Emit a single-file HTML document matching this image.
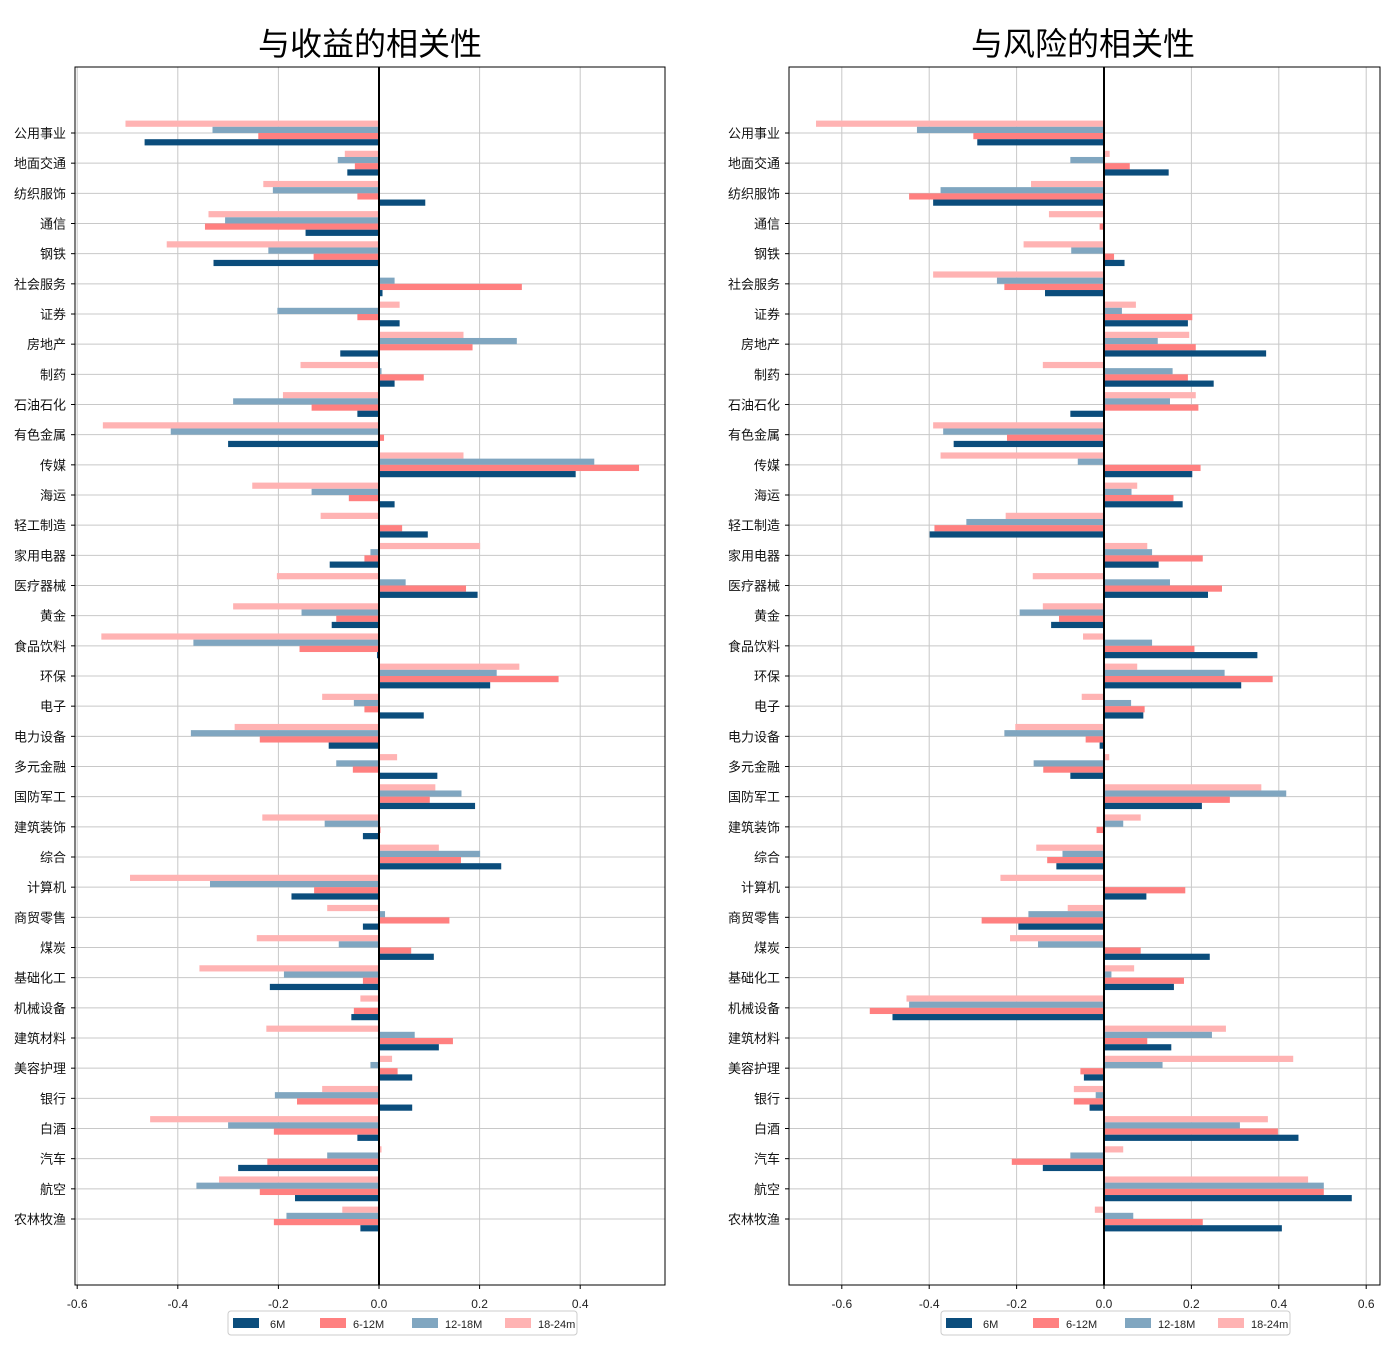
<!DOCTYPE html>
<html><head><meta charset="utf-8">
<style>
html,body{margin:0;padding:0;background:#fff;}
svg{display:block;font-family:"Liberation Sans","Noto Sans CJK SC",sans-serif;}
</style></head>
<body>
<svg id="chart" width="1398" height="1356" viewBox="0 0 1398 1356" xmlns="http://www.w3.org/2000/svg"></svg>
<script>
const categories=["公用事业","地面交通","纺织服饰","通信","钢铁","社会服务","证券","房地产","制药","石油石化","有色金属","传媒","海运","轻工制造","家用电器","医疗器械","黄金","食品饮料","环保","电子","电力设备","多元金融","国防军工","建筑装饰","综合","计算机","商贸零售","煤炭","基础化工","机械设备","建筑材料","美容护理","银行","白酒","汽车","航空","农林牧渔"];
const seriesNames=["6M","6-12M","12-18M","18-24m"];
const seriesColors=["#0b4d7c","#ff8080","#80a6c0","#ffb3b3"];
// Returns correlation
const ret6M=[-0.466,-0.063,0.092,-0.146,-0.329,0.007,0.041,-0.077,0.031,-0.043,-0.300,0.391,0.031,0.097,-0.098,0.196,-0.094,-0.004,0.221,0.089,-0.100,0.116,0.191,-0.032,0.243,-0.174,-0.032,0.109,-0.217,-0.055,0.119,0.066,0.066,-0.043,-0.280,-0.167,-0.037];
const ret6_12=[-0.240,-0.048,-0.043,-0.346,-0.130,0.284,-0.043,0.186,0.089,-0.134,0.010,0.517,-0.060,0.046,-0.029,0.173,-0.085,-0.158,0.357,-0.029,-0.237,-0.052,0.101,0.003,0.163,-0.129,0.140,0.064,-0.032,-0.050,0.147,0.037,-0.163,-0.209,-0.222,-0.237,-0.209];
const ret12_18=[-0.331,-0.082,-0.211,-0.306,-0.220,0.031,-0.202,0.274,0.005,-0.290,-0.414,0.428,-0.134,0,-0.017,0.053,-0.154,-0.369,0.234,-0.050,-0.374,-0.085,0.164,-0.108,0.201,-0.336,0.012,-0.080,-0.189,0,0.071,-0.017,-0.207,-0.300,-0.103,-0.363,-0.184];
const ret18_24=[-0.504,-0.068,-0.230,-0.339,-0.422,0,0.041,0.168,-0.156,-0.191,-0.549,0.168,-0.252,-0.116,0.201,-0.203,-0.290,-0.552,0.279,-0.113,-0.287,0.036,0.112,-0.232,0.119,-0.495,-0.103,-0.243,-0.357,-0.037,-0.224,0.026,-0.113,-0.455,0.005,-0.318,-0.073];
// Risk correlation
const risk6M=[-0.290,0.148,-0.391,0,0.047,-0.135,0.192,0.371,0.251,-0.077,-0.344,0.202,0.180,-0.399,0.125,0.238,-0.121,0.351,0.314,0.090,-0.010,-0.077,0.224,0,-0.109,0.097,-0.196,0.242,0.160,-0.484,0.154,-0.046,-0.033,0.445,-0.140,0.567,0.407];
const risk6_12=[-0.299,0.059,-0.446,-0.010,0.023,-0.228,0.202,0.210,0.192,0.216,-0.222,0.221,0.159,-0.388,0.226,0.270,-0.103,0.207,0.386,0.093,-0.042,-0.139,0.288,-0.017,-0.130,0.186,-0.280,0.084,0.183,-0.536,0.099,-0.054,-0.069,0.398,-0.211,0.503,0.226];
const risk12_18=[-0.428,-0.077,-0.374,0,-0.075,-0.245,0.041,0.123,0.157,0.151,-0.368,-0.060,0.063,-0.315,0.110,0.151,-0.193,0.110,0.276,0.062,-0.228,-0.161,0.417,0.044,-0.095,0,-0.173,-0.151,0.017,-0.446,0.247,0.134,-0.019,0.311,-0.077,0.503,0.067];
const risk18_24=[-0.659,0.013,-0.167,-0.126,-0.184,-0.391,0.073,0.195,-0.140,0.210,-0.391,-0.374,0.076,-0.225,0.099,-0.163,-0.140,-0.048,0.076,-0.051,-0.203,0.012,0.360,0.084,-0.155,-0.237,-0.083,-0.215,0.069,-0.452,0.279,0.433,-0.069,0.375,0.044,0.467,-0.021];
const tickVals=[-0.6,-0.4,-0.2,0.0,0.2,0.4,0.6];
const tickLabels=["-0.6","-0.4","-0.2","0.0","0.2","0.4","0.6"];

const NS="http://www.w3.org/2000/svg";
const svg=document.getElementById('chart');
function mk(tag,attrs,parent){const e=document.createElementNS(NS,tag);for(const k in attrs)e.setAttribute(k,attrs[k]);(parent||svg).appendChild(e);return e;}

function panel(cfg){
  const g=mk('g',{});
  
  
  const L=cfg.left,R=cfg.right,T=67,B=1285;
  const xs=v=>cfg.zeroX+v*cfg.ppu;
  const ys=i=>133+i*(1086/36);
  tickVals.forEach((v,i)=>{
    const x=xs(v); if(x<L-1||x>R+1) return;
    const gl=mk('line',{x1:x,x2:x,y1:T,y2:B,stroke:'#c8c8c8','stroke-width':1},g);
    
    
    mk('line',{x1:x,x2:x,y1:B,y2:B+4,stroke:'#000','stroke-width':1},g);
    const t=mk('text',{x:x,y:B+23,'font-size':12,'text-anchor':'middle',fill:'#222'},g);
    t.textContent=tickLabels[i];
    
    
  });
  categories.forEach((c,i)=>{
    const y=ys(i);
    const gl=mk('line',{x1:L,x2:R,y1:y,y2:y,stroke:'#c8c8c8','stroke-width':1},g);
    
    
    mk('line',{x1:L-4,x2:L,y1:y,y2:y,stroke:'#000','stroke-width':1},g);
    const t=mk('text',{x:L-9,y:y+5,'font-size':13,'text-anchor':'end',fill:'#111'},g);
    t.textContent=c;
    
    
  });
  const order=[3,2,1,0];
  const offs=[-9.3,-3.1,3.1,9.3];
  const h=6.2;
  order.forEach((s,k)=>{
    const vals=cfg.series[s];
    vals.forEach((v,i)=>{
      if(!v) return;
      const x0=xs(0),x1=xs(v);
      const r=mk('rect',{x:Math.min(x0,x1),y:ys(i)+offs[k]-h/2,width:Math.abs(x1-x0),height:h,fill:seriesColors[s]},g);
      
      
    });
  });
  const z=mk('line',{x1:xs(0),x2:xs(0),y1:T,y2:B,stroke:'#000','stroke-width':2},g);
  
  
  const fr=mk('rect',{x:L,y:T,width:R-L,height:B-T,fill:'none',stroke:'#000','stroke-width':1},g);
  
  
  const ti=mk('text',{x:cfg.titleX,y:55,'font-size':32,'text-anchor':'middle',fill:'#000'},g);
  ti.textContent=cfg.title;
  
  
  const lg=mk('g',{},g);
  
  
  const lx=cfg.legendX,ly=1311;
  mk('rect',{x:lx,y:ly,width:349,height:24,rx:3,fill:'#fff',stroke:'#ccc'},lg);
  const pos=[0,87,179,272];
  seriesNames.forEach((n,s)=>{
    const e=mk('g',{},lg);
    
    
    mk('rect',{x:lx+5+pos[s],y:ly+7,width:26,height:10,fill:seriesColors[s]},e);
    const t=mk('text',{x:lx+5+pos[s]+(s==0?37:33),y:ly+17,'font-size':11,fill:'#222'},e);
    t.textContent=n;
  });
}
panel({name:'return-correlation-panel',title:'与收益的相关性',left:75,right:665,zeroX:379,ppu:503,titleX:370,legendX:228,
  series:[ret6M,ret6_12,ret12_18,ret18_24]});
panel({name:'risk-correlation-panel',title:'与风险的相关性',left:789,right:1380,zeroX:1104,ppu:437,titleX:1083,legendX:941,
  series:[risk6M,risk6_12,risk12_18,risk18_24]});
</script>
</body></html>
